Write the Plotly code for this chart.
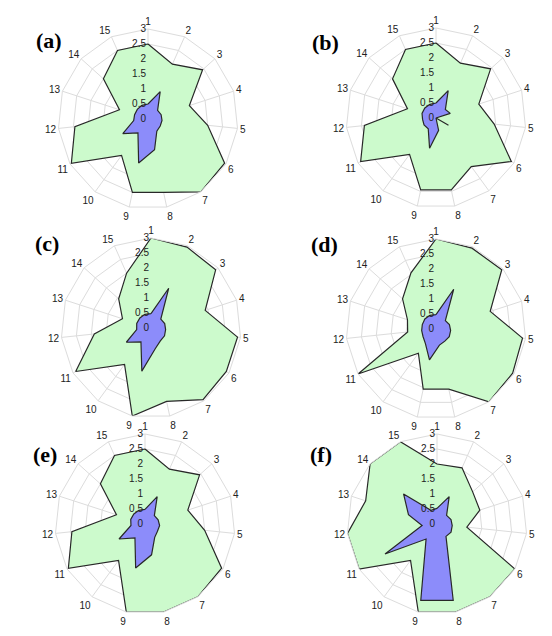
import plotly.graph_objects as go

categories = [str(i) for i in range(1, 16)]
radial_ticks = [0, 0.5, 1, 1.5, 2, 2.5, 3]
radial_ticktext = ["0", "0.5", "1", "1.5", "2", "2.5", "3"]
panel_labels = ["(a)", "(b)", "(c)", "(d)", "(e)", "(f)"]

green_a = [2.5, 2.0, 2.45, 1.45, 2.0, 2.95, 3.0, 2.5, 2.5, 1.5, 2.95, 2.45, 1.0, 2.0, 2.5]
blue_a = [0.5, 1.0, 0.43, 0.46, 0.47, 0.47, 0.5, 1.05, 1.5, 0.57, 0.97, 0.48, 0.47, 0.48, 0.5]

green_b = [2.5, 2.0, 2.45, 1.5, 1.95, 2.9, 2.0, 2.45, 2.45, 1.5, 2.9, 2.4, 1.0, 1.95, 2.5]
blue_b = [0.5, 1.0, 0.42, 0.5, 0.0, 0.48, 0.0, 0.42, 1.03, 0.44, 0.46, 0.45, 0.49, 0.5, 0.5]

green_c = [3.0, 2.95, 2.9, 1.9, 2.9, 2.9, 2.95, 2.5, 3.0, 1.5, 2.9, 1.9, 1.0, 1.45, 2.0]
blue_c = [0.48, 1.45, 0.44, 0.48, 0.49, 0.52, 0.53, 0.7, 1.47, 0.57, 0.95, 0.48, 0.5, 0.5, 0.5]

green_d = [3.0, 2.95, 2.95, 1.9, 2.9, 2.95, 3.0, 2.05, 2.05, 1.0, 3.0, 0.95, 1.0, 1.5, 2.05]
blue_d = [0.48, 1.45, 0.42, 0.47, 0.49, 0.51, 0.5, 0.55, 1.05, 0.6, 0.5, 0.48, 0.48, 0.5, 0.5]

green_e = [2.5, 2.0, 2.45, 1.5, 2.0, 2.95, 3.0, 3.0, 3.0, 1.5, 2.95, 2.45, 1.0, 2.0, 2.5]
blue_e = [0.49, 1.0, 0.42, 0.46, 0.49, 0.48, 0.55, 1.05, 1.5, 0.57, 1.0, 0.47, 0.5, 0.5, 0.5]

green_f = [2.0, 2.05, 1.6, 1.5, 1.0, 3.0, 3.0, 3.0, 3.0, 1.5, 3.0, 3.0, 2.5, 3.0, 3.0]
blue_f = [0.52, 1.0, 0.43, 0.49, 0.51, 0.54, 0.51, 2.6, 2.6, 0.62, 2.0, 0.5, 1.0, 1.5, 0.5]

greens = [green_a, green_b, green_c, green_d, green_e, green_f]
blues = [blue_a, blue_b, blue_c, blue_d, blue_e, blue_f]

W, H = 552, 636
R = 90
centers = [(140, 111), (428, 110), (143, 320), (428, 321), (137, 516), (429, 516)]
label_pos = [(26, 18), (317, 20), (25, 236), (316, 237), (23, 461), (313, 461)]

GREEN = "rgb(204,250,204)"
BLUE = "rgb(140,140,250)"
GRID = "rgb(220,220,220)"


def clamp(v):
    return min(1.0, max(0.0, v))


fig = go.Figure()
layout_polars = {}
for i in range(6):
    pname = "polar" if i == 0 else f"polar{i+1}"
    sub = pname
    theta = categories + [categories[0]]
    fig.add_trace(go.Scatterpolar(
        r=greens[i] + [greens[i][0]], theta=theta, mode="lines", fill="toself",
        fillcolor=GREEN, line=dict(color="rgb(40,40,40)", width=1.2),
        cliponaxis=False, subplot=sub, showlegend=False, hoverinfo="skip"))
    fig.add_trace(go.Scatterpolar(
        r=blues[i] + [blues[i][0]], theta=theta, mode="lines", fill="toself",
        fillcolor=BLUE, line=dict(color="rgb(40,40,40)", width=1.2),
        cliponaxis=False, subplot=sub, showlegend=False, hoverinfo="skip"))
    cx, cy = centers[i]
    layout_polars[pname] = dict(
        domain=dict(x=[clamp((cx - R) / W), clamp((cx + R) / W)],
                    y=[clamp((H - cy - R) / H), clamp((H - cy + R) / H)]),
        gridshape="linear",
        bgcolor="white",
        radialaxis=dict(range=[0, 3], tickvals=radial_ticks, ticktext=radial_ticktext,
                        angle=90, side="counterclockwise", tickangle=90,
                        showline=False, ticks="", gridcolor=GRID, gridwidth=1,
                        layer="above traces",
                        tickfont=dict(family="Liberation Sans", size=10, color="#222")),
        angularaxis=dict(direction="clockwise", rotation=90, categoryorder="array",
                         categoryarray=categories, gridcolor=GRID, linecolor=GRID,
                         showline=True, ticks="", layer="above traces",
                         tickfont=dict(family="Liberation Sans", size=10, color="#222")),
    )
    lx, ly = label_pos[i]
    fig.add_annotation(x=lx / W, y=1 - ly / H, xref="paper", yref="paper",
                       text="<b>" + panel_labels[i] + "</b>", showarrow=False,
                       font=dict(family="Liberation Serif", size=22, color="black"))

fig.update_layout(width=W, height=H, margin=dict(l=0, r=0, t=0, b=0),
                  paper_bgcolor="white", **layout_polars)
fig.write_html("out.html")
